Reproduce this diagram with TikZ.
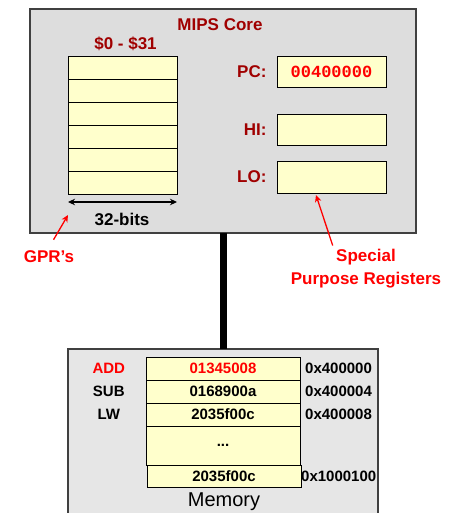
\documentclass[tikz,border=0pt]{standalone}
\usepackage{fontspec}
\setmainfont{Liberation Sans}
\setmonofont{Liberation Mono}
\usepackage{tikz}
\usetikzlibrary{positioning, arrows.meta}
\definecolor{coregray}{RGB}{221,221,221}
\definecolor{memgray}{RGB}{230,230,230}
\definecolor{regyellow}{RGB}{255,255,204}
\definecolor{darkred}{RGB}{160,0,0}
\definecolor{brightred}{RGB}{255,0,0}

\begin{document}
\begin{tikzpicture}[x=1pt, y=-1pt, node distance=0pt, >={Stealth[length=7pt, width=6.5pt]}]
	\tikzstyle{unit} = [rectangle, draw=black!75, line width=1.2pt, inner sep=0pt, outer sep=0pt];
	\tikzstyle{reg} = [rectangle, draw=black, fill=regyellow, line width=0.9pt, minimum width=109pt, minimum height=23pt, inner sep=0pt, outer sep=0pt];
	\tikzstyle{cell} = [reg, minimum width=154pt, font=\fontsize{15}{18}\selectfont\bfseries];
	\tikzstyle{title} = [font=\fontsize{17}{20}\selectfont\bfseries, text=darkred];
	\tikzstyle{plain} = [font=\fontsize{17}{20}\selectfont\bfseries];
	\tikzstyle{note} = [font=\fontsize{17}{20}\selectfont\bfseries, text=brightred];
	\tikzstyle{op} = [font=\fontsize{15}{18}\selectfont\bfseries, text width=40pt, align=center, inner sep=0pt];
	\tikzstyle{addr} = [font=\fontsize{15}{18}\selectfont\bfseries, inner sep=0pt];
	\tikzstyle{pointer} = [draw=brightred, line width=1.3pt, ->];
	
	\useasboundingbox (0,0) rectangle (467,513);
	
	% core and memory
	\node[unit, fill=coregray, minimum width=386pt, minimum height=224pt, anchor=north west](core) at (30,9){};
	\node[unit, fill=memgray, minimum width=310pt, minimum height=180pt, anchor=north west](memory) at (68,349){};
	\draw[line width=7pt] (core.south) -- (memory.north);
	
	\node[title](core name) at (220,25){MIPS Core};
	
	% general purpose registers
	\node[reg, anchor=north west](gpr1) at (68,56){};
	\node[reg, below = of gpr1](gpr2){};
	\node[reg, below = of gpr2](gpr3){};
	\node[reg, below = of gpr3](gpr4){};
	\node[reg, below = of gpr4](gpr5){};
	\node[reg, below = of gpr5](gpr6){};
	\node[title, above = 2pt of gpr1, xshift=3pt](gpr range){\$0 - \$31};
	\draw[<->, line width=1.2pt] ([yshift=-8pt]gpr6.south west) -- ([yshift=-8pt]gpr6.south east);
	\node[plain](bits) at (122,219){32-bits};
	
	% special purpose registers
	\node[reg, minimum height=31pt, anchor=north west](pc) at (277,56){\ttfamily\bfseries\fontsize{17}{20}\selectfont\color{brightred}00400000};
	\node[reg, minimum height=31pt, anchor=north west](hi) at (277,114){};
	\node[reg, minimum height=32pt, anchor=north west](lo) at (277,161){};
	\node[title, left = 7pt of pc](pc label){PC:};
	\node[title, left = 7pt of hi](hi label){HI:};
	\node[title, left = 7pt of lo](lo label){LO:};
	
	% notes
	\node[note](gpr note) at (49,257){GPR’s};
	\node[note](spr note1) at (366,257){Special};
	\node[note, below = 0pt of spr note1](spr note2){Purpose Registers};
	\coordinate (gpr tip) at (68,215);
	\draw[pointer, shorten <=9pt] (gpr note.north) -- (gpr tip);
	\draw[pointer] (spr note1.north west) -- ([xshift=39pt, yshift=-2pt]lo.south west);
	
	% memory contents
	\node[cell, anchor=north west, text=brightred](m1) at (146,357){01345008};
	\node[cell, below = of m1](m2){0168900a};
	\node[cell, below = of m2](m3){2035f00c};
	\node[cell, below = of m3, minimum height=39pt](mdots){...};
	\node[cell, below = of mdots, xshift=1pt, minimum height=22pt](mlast){2035f00c};
	
	\node[op, text=brightred, left = 17pt of m1](add){ADD};
	\node[op, left = 17pt of m2](sub){SUB};
	\node[op, left = 17pt of m3](lw){LW};
	
	\node[addr, right = 5pt of m1](a1){0x400000};
	\node[addr, right = 5pt of m2](a2){0x400004};
	\node[addr, right = 5pt of m3](a3){0x400008};
	\node[addr, right = 0pt of mlast](a4){0x1000100};
	
	\node[font=\fontsize{20}{24}\selectfont, below = 2pt of mlast](mem name){Memory};
\end{tikzpicture}
\end{document}
